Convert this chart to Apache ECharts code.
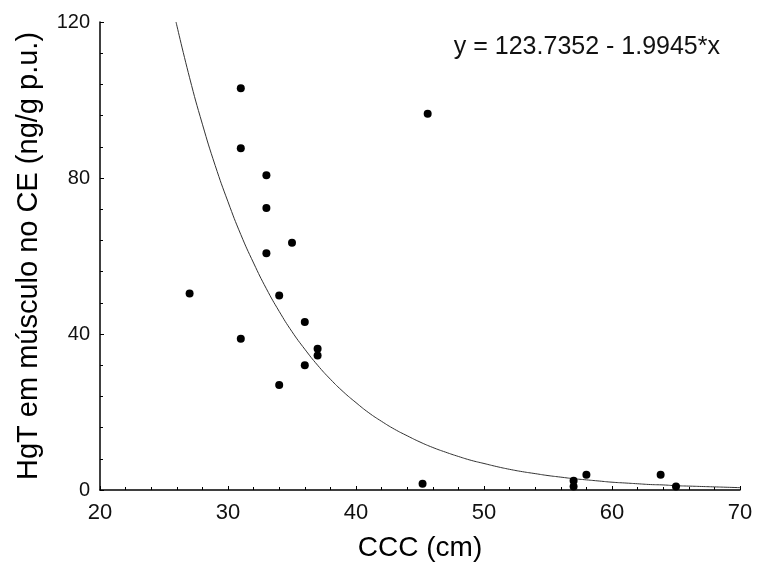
<!DOCTYPE html>
<html>
<head>
<meta charset="utf-8">
<script src="https://cdn.jsdelivr.net/npm/echarts@6/dist/echarts.min.js"></script>
<style>html,body{margin:0;padding:0;background:#fff}#c{width:759px;height:569px}</style>
</head>
<body>
<div id="c"></div>
<script>
// Observed points: CCC (cm) vs HgT (ng/g p.u.)
const pointsX = [31, 31, 33, 33, 33, 35, 27, 34, 36, 31, 37, 37, 36, 34, 45.6, 45.2, 57, 57, 58, 63.8, 65];
const pointsY = [103, 87.6, 80.7, 72.3, 60.7, 63.4, 50.4, 49.9, 43.1, 38.8, 36.2, 34.5, 32.0, 26.9, 96.5, 1.6, 2.4, 0.9, 3.9, 3.9, 0.9];
// Fitted curve
const curveX = [25.94, 27, 28, 29, 30, 31, 32, 33, 34, 35, 36, 37, 38, 39, 40, 41, 42, 43, 44, 45, 46, 47, 48, 49, 50, 51, 52, 53, 54, 55, 56, 57, 58, 59, 60, 61, 62, 63, 64, 65, 66, 67, 68, 69, 70];
const curveY = [120, 105.7, 93.8, 83.2, 73.9, 65.5, 58.2, 51.6, 45.8, 40.6, 36.1, 32.0, 28.4, 25.2, 22.4, 19.8, 17.6, 15.6, 13.9, 12.3, 10.9, 9.7, 8.6, 7.6, 6.8, 6.0, 5.3, 4.7, 4.2, 3.7, 3.3, 2.9, 2.6, 2.3, 2.0, 1.8, 1.6, 1.4, 1.3, 1.1, 1.0, 0.9, 0.8, 0.7, 0.6];
const xTicks = [20, 30, 40, 50, 60, 70];
const yTicks = [0, 40, 80, 120];
const equation = 'y = 123.7352 - 1.9945*x';
const xName = 'CCC (cm)';
const yName = 'HgT em músculo no CE (ng/g p.u.)';

const chart = echarts.init(document.getElementById('c'));
const font = 'Liberation Sans, Arial, sans-serif';
chart.setOption({
  animation: false,
  backgroundColor: '#fff',
  grid: { left: 100, right: 19, top: 22, bottom: 79 },
  xAxis: {
    type: 'value', min: xTicks[0], max: xTicks[xTicks.length - 1], interval: 10,
    name: xName, nameLocation: 'middle', nameGap: 44,
    nameTextStyle: { fontFamily: font, fontSize: 28, color: '#000' },
    axisLine: { show: true, onZero: false, lineStyle: { color: '#000', width: 1.5 } },
    axisTick: { show: true, inside: true, length: 4, lineStyle: { color: '#000' } },
    minorTick: { show: true, splitNumber: 5, length: 3, lineStyle: { color: '#000' } },
    splitLine: { show: false },
    axisLabel: { fontFamily: font, fontSize: 22, color: '#111', margin: 12 }
  },
  yAxis: {
    type: 'value', min: yTicks[0], max: yTicks[yTicks.length - 1], interval: 40,
    name: yName, nameLocation: 'middle', nameGap: 57,
    nameTextStyle: { fontFamily: font, fontSize: 29, color: '#000' },
    axisLine: { show: true, onZero: false, lineStyle: { color: '#000', width: 1.5 } },
    axisTick: { show: true, inside: true, length: 4, lineStyle: { color: '#000' } },
    minorTick: { show: true, splitNumber: 5, length: 3, lineStyle: { color: '#000' } },
    splitLine: { show: false },
    axisLabel: { fontFamily: font, fontSize: 20, color: '#111', margin: 10 }
  },
  graphic: [{
    type: 'text', right: 39, top: 35,
    style: { text: equation, font: '25px ' + font, fill: '#111' }
  }],
  series: [{
    type: 'line',
    data: curveX.map((x, i) => [x, curveY[i]]),
    showSymbol: false, smooth: true,
    lineStyle: { color: '#333', width: 1 },
    z: 1
  }, {
    type: 'scatter',
    data: pointsX.map((x, i) => [x, pointsY[i]]),
    symbol: 'circle', symbolSize: 8,
    itemStyle: { color: '#000', opacity: 1 },
    z: 2
  }]
});
</script>
</body>
</html>
